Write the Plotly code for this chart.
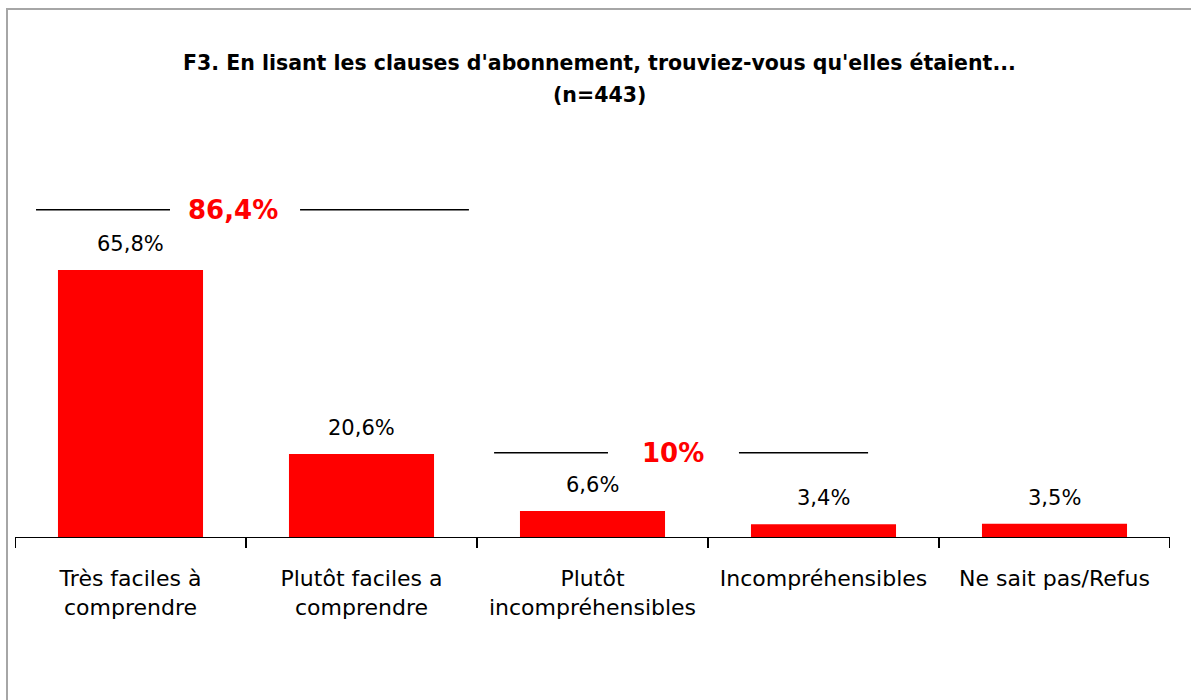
import plotly.graph_objects as go

title_lines = ["F3. En lisant les clauses d'abonnement, trouviez-vous qu'elles étaient...", "(n=443)"]
categories = ["Très faciles à<br>comprendre", "Plutôt faciles a<br>comprendre",
              "Plutôt<br>incompréhensibles", "Incompréhensibles", "Ne sait pas/Refus"]
values = [65.8, 20.6, 6.6, 3.4, 3.5]
group_labels = ["86,4%", "10%"]

W, H = 1191, 700
L, R, T, B = 15, 21, 130, 162
pw, ph = W - L - R, H - T - B
FONT = "Tahoma, Verdana, DejaVu Sans, sans-serif"

fig = go.Figure()
fig.add_trace(go.Bar(
    x=list(range(len(categories))), y=values, width=0.628,
    marker=dict(color="#ff0000", line=dict(width=0)),
    cliponaxis=False, hoverinfo="skip",
))

def px_x(px):
    return (px - L) / pw
def px_y(py):
    return (H - B - py) / ph

shapes = [dict(type="rect", xref="paper", yref="paper",
               x0=px_x(7), x1=px_x(1200), y0=px_y(710), y1=px_y(9),
               line=dict(color="#a6a6a6", width=2), fillcolor="rgba(0,0,0,0)", layer="below")]
annotations = []
# value labels above bars
for i, v in enumerate(values):
    annotations.append(dict(x=i, y=v, xref="x", yref="y", text=f"{v:.1f}%".replace(".", ","),
                            showarrow=False, yanchor="middle", yshift=26,
                            font=dict(family=FONT, size=21, color="#000000")))
# bracket lines (positions in category-index units)
brackets = [
    (-0.409, 0.171, 0.734, 1.465, 80.6, 0.444, group_labels[0]),
    (1.574, 2.067, 2.634, 3.193, 20.9, 2.348, group_labels[1]),
]
for a0, a1, b0, b1, yy, tx, lab in brackets:
    for x0, x1 in ((a0, a1), (b0, b1)):
        shapes.append(dict(type="line", xref="x", yref="y", x0=x0, x1=x1, y0=yy, y1=yy,
                           line=dict(color="#000000", width=1.5)))
    annotations.append(dict(x=tx, y=yy, xref="x", yref="y", text="<b>" + lab + "</b>",
                            showarrow=False, font=dict(family=FONT, size=26, color="#ff0000")))

for line, py in zip(title_lines, (63, 95)):
    annotations.append(dict(x=px_x(599), y=px_y(py), xref="paper", yref="paper", text="<b>" + line + "</b>",
                            showarrow=False, xanchor="center", yanchor="middle",
                            font=dict(family=FONT, size=20.5, color="#000000")))

# boundary ticks and axis line
for i in range(len(categories) + 1):
    shapes.append(dict(type="line", xref="x", yref="paper", x0=i - 0.5, x1=i - 0.5,
                       y0=0, y1=-10 / ph, line=dict(color="#000000", width=2)))
shapes.append(dict(type="line", xref="x", yref="y", x0=-0.5, x1=len(categories) - 0.5,
                   y0=0, y1=0, line=dict(color="#000000", width=2)))

fig.update_layout(
    width=W, height=H, margin=dict(l=L, r=R, t=T, b=B),
    paper_bgcolor="white", plot_bgcolor="white",
    showlegend=False,
    shapes=shapes, annotations=annotations,
    font=dict(family=FONT, color="#000000"),
)
fig.update_xaxes(
    type="linear", range=[-0.5, len(categories) - 0.5],
    tickmode="array", tickvals=list(range(len(categories))), ticktext=categories,
    ticks="", showline=False, showgrid=False, zeroline=False,
    tickfont=dict(family=FONT, size=22, color="#000000"), ticklabelstandoff=25,
)
fig.update_yaxes(range=[0, ph / 4.073], visible=False, showgrid=False, zeroline=False)

fig.write_html("out.html", config={"displayModeBar": False},
               post_script="document.body.style.margin='0px';document.body.style.padding='0px';")
